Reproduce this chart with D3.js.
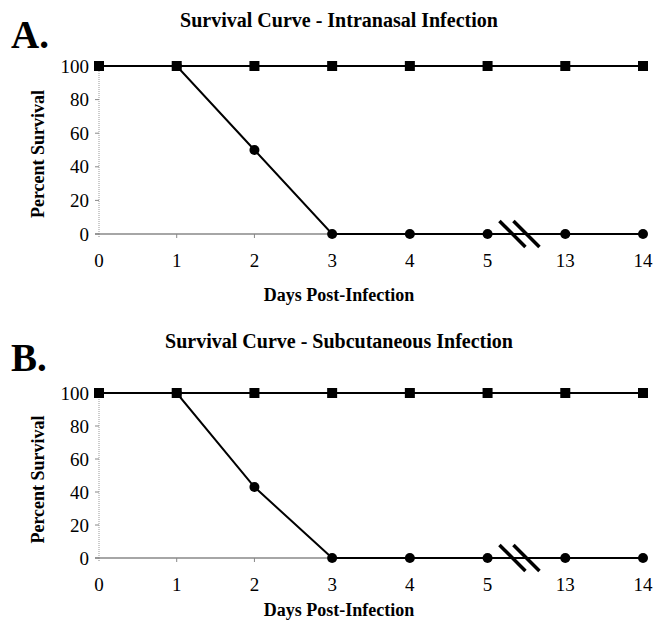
<html lang="en">
<head>
<meta charset="utf-8">
<title>Survival Curves</title>
<style>
  body { margin: 0; background: white; }
  svg { background: white; display: block; }
  text { font-family: "Liberation Serif", "Times New Roman", serif; fill: #000; }
  .tick-label { font-size: 19px; }
  .axis-title { font-size: 18px; font-weight: bold; }
  .chart-title { font-size: 20px; font-weight: bold; }
  .panel-letter { font-size: 39px; font-weight: bold; }
  .series { fill: none; stroke: #000; stroke-width: 2; }
</style>
</head>
<body>
<div id="chart"></div>
<script src="https://d3js.org/d3.v7.min.js"></script>
<script>
// x categories (days post-infection, with a break between 5 and 13)
var days = ["0", "1", "2", "3", "4", "5", "13", "14"];
var yTicks = [0, 20, 40, 60, 80, 100];

// panel A - intranasal infection
var titleA = "Survival Curve - Intranasal Infection";
var controlA = [100, 100, 100, 100, 100, 100, 100, 100];
var infectedA = [100, 100, 50, 0, 0, 0, 0, 0];

// panel B - subcutaneous infection
var titleB = "Survival Curve - Subcutaneous Infection";
var controlB = [100, 100, 100, 100, 100, 100, 100, 100];
var infectedB = [100, 100, 43, 0, 0, 0, 0, 0];

var width = 653, height = 627;

var svg = d3.select("#chart")
    .append("svg")
    .attr("width", width)
    .attr("height", height);

var x = d3.scalePoint()
    .domain(days)
    .range([99, 643]);

function drawPanel(opts)
{
    var y = d3.scaleLinear()
        .domain([0, 100])
        .range([opts.y0, opts.y100]);

    var g = svg.append("g");

    // panel letter and title
    g.append("text")
        .attr("class", "panel-letter")
        .attr("x", 11)
        .attr("y", opts.letterY)
        .text(opts.letter);

    g.append("text")
        .attr("class", "chart-title")
        .attr("x", 339)
        .attr("y", opts.titleY)
        .attr("text-anchor", "middle")
        .text(opts.title);

    // y axis: dotted gray line with small ticks on the left
    g.append("line")
        .attr("x1", x("0")).attr("x2", x("0"))
        .attr("y1", y(0)).attr("y2", y(100))
        .style("stroke", "#999")
        .style("stroke-width", 1)
        .style("stroke-dasharray", "1,1");

    g.selectAll(".ytick")
        .data(yTicks)
        .enter().append("line")
        .attr("x1", x("0") - 4).attr("x2", x("0"))
        .attr("y1", function(d) { return y(d); })
        .attr("y2", function(d) { return y(d); })
        .style("stroke", "#888")
        .style("stroke-width", 1);

    g.selectAll(".ylabel")
        .data(yTicks)
        .enter().append("text")
        .attr("class", "tick-label")
        .attr("x", 89)
        .attr("y", function(d) { return y(d); })
        .attr("dy", "0.35em")
        .attr("text-anchor", "end")
        .text(function(d) { return d; });

    // x axis: gray line with ticks below
    g.append("line")
        .attr("x1", x("0") - 4).attr("x2", 646)
        .attr("y1", y(0)).attr("y2", y(0))
        .style("stroke", "#888")
        .style("stroke-width", 1.5);

    g.selectAll(".xtick")
        .data(days)
        .enter().append("line")
        .attr("x1", function(d) { return x(d); })
        .attr("x2", function(d) { return x(d); })
        .attr("y1", y(0)).attr("y2", y(0) + 4)
        .style("stroke", "#888")
        .style("stroke-width", 1)
        .style("stroke-dasharray", function(d) { return d == "0" ? "1,1" : null; });

    g.selectAll(".xlabel")
        .data(days)
        .enter().append("text")
        .attr("class", "tick-label")
        .attr("x", function(d) { return x(d); })
        .attr("y", y(0) + 33)
        .attr("text-anchor", "middle")
        .text(function(d) { return d; });

    // axis titles
    g.append("text")
        .attr("class", "axis-title")
        .attr("transform", "translate(44," + ((y(0) + y(100)) / 2 + 4) + ") rotate(-90)")
        .attr("text-anchor", "middle")
        .text("Percent Survival");

    g.append("text")
        .attr("class", "axis-title")
        .attr("x", 339)
        .attr("y", opts.xTitleY)
        .attr("text-anchor", "middle")
        .text("Days Post-Infection");

    var line = d3.line()
        .x(function(d, i) { return x(days[i]); })
        .y(function(d) { return y(d); });

    // infected series (circles)
    g.append("path")
        .attr("class", "series")
        .attr("d", line(opts.infected));

    g.selectAll(".dot")
        .data(opts.infected)
        .enter().append("circle")
        .attr("cx", function(d, i) { return x(days[i]); })
        .attr("cy", function(d) { return y(d); })
        .attr("r", 5)
        .style("fill", "#000");

    // control series (squares)
    g.append("path")
        .attr("class", "series")
        .attr("d", line(opts.control));

    g.selectAll(".sq")
        .data(opts.control)
        .enter().append("rect")
        .attr("x", function(d, i) { return x(days[i]) - 5; })
        .attr("y", function(d) { return y(d) - 5; })
        .attr("width", 10)
        .attr("height", 10)
        .style("fill", "#000");

    // axis break marks between 5 and 13
    var bx = x("5") + 0.41 * (x("13") - x("5"));
    [-7, 7].forEach(function(off)
    {
        g.append("line")
            .attr("x1", bx + off - 13).attr("y1", y(0) - 13)
            .attr("x2", bx + off + 13).attr("y2", y(0) + 13)
            .style("stroke", "#000")
            .style("stroke-width", 3.5);
    });
}

drawPanel({
    letter: "A.", letterY: 48, title: titleA, titleY: 27,
    y0: 234, y100: 66, xTitleY: 301,
    control: controlA, infected: infectedA
});

drawPanel({
    letter: "B.", letterY: 371, title: titleB, titleY: 348,
    y0: 558, y100: 393, xTitleY: 616,
    control: controlB, infected: infectedB
});
</script>
</body>
</html>
